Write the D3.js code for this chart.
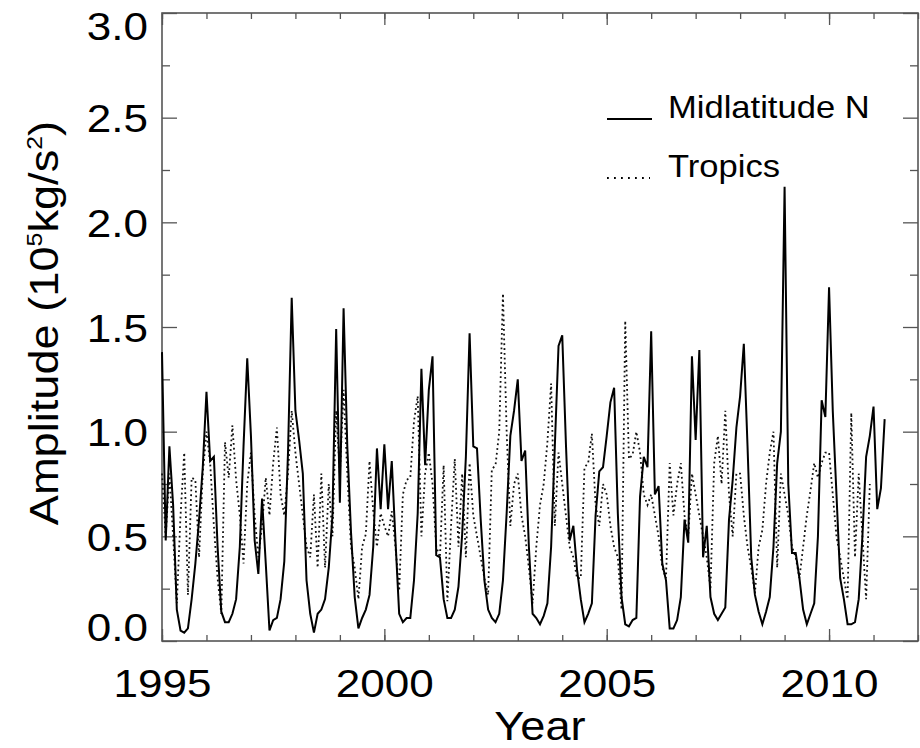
<!DOCTYPE html>
<html>
<head>
<meta charset="utf-8">
<script src="https://cdn.jsdelivr.net/npm/d3@7"></script>
<style>
  body { margin: 0; background: #fff; }
  text { font-family: "Liberation Sans", Arial, sans-serif; fill: #000; }
</style>
</head>
<body>
<script>
var w = 920, h = 748;
var margin = {left: 162, right: 2, top: 13, bottom: 107};

// monthly values, first month = Jan 1995
var startYear = 1995;
var midlatN = [
  1.38, 0.48, 0.93, 0.65, 0.15, 0.05, 0.04, 0.06, 0.20, 0.37, 0.58, 0.83,
  1.19, 0.86, 0.88, 0.45, 0.14, 0.09, 0.09, 0.13, 0.20, 0.45, 0.93, 1.35,
  0.98, 0.48, 0.32, 0.68, 0.37, 0.05, 0.10, 0.11, 0.20, 0.38, 0.90, 1.64,
  1.10, 0.96, 0.80, 0.29, 0.13, 0.04, 0.13, 0.15, 0.20, 0.35, 0.60, 1.49,
  0.66, 1.59, 0.93, 0.52, 0.21, 0.06, 0.11, 0.15, 0.22, 0.45, 0.92, 0.63,
  0.94, 0.63, 0.86, 0.48, 0.13, 0.09, 0.11, 0.11, 0.29, 0.61, 1.30, 0.84,
  1.20, 1.36, 0.41, 0.40, 0.20, 0.11, 0.11, 0.15, 0.26, 0.51, 0.88, 1.47,
  0.93, 0.92, 0.58, 0.29, 0.15, 0.11, 0.09, 0.13, 0.29, 0.61, 0.98, 1.10,
  1.25, 0.86, 0.91, 0.45, 0.13, 0.11, 0.08, 0.12, 0.18, 0.45, 0.93, 1.41,
  1.46, 0.94, 0.48, 0.55, 0.34, 0.20, 0.09, 0.13, 0.18, 0.60, 0.81, 0.83,
  0.98, 1.14, 1.21, 0.61, 0.21, 0.08, 0.07, 0.10, 0.11, 0.69, 0.88, 0.83,
  1.48, 0.70, 0.74, 0.37, 0.29, 0.06, 0.06, 0.10, 0.21, 0.58, 0.47, 1.36,
  0.96, 1.39, 0.40, 0.55, 0.21, 0.13, 0.10, 0.13, 0.16, 0.58, 0.77, 1.02,
  1.17, 1.42, 0.93, 0.40, 0.22, 0.14, 0.08, 0.14, 0.21, 0.45, 0.85, 1.00,
  2.17, 0.75, 0.42, 0.42, 0.30, 0.15, 0.08, 0.13, 0.18, 0.50, 1.15, 1.07,
  1.69, 1.10, 0.70, 0.30, 0.20, 0.08, 0.08, 0.09, 0.20, 0.50, 0.88, 0.98,
  1.12, 0.63, 0.73, 1.06
];
var tropics = [
  0.80, 0.50, 0.80, 0.50, 0.18, 0.60, 0.90, 0.22, 0.78, 0.77, 0.40, 0.80,
  1.00, 0.85, 0.55, 0.30, 0.13, 0.95, 0.78, 1.03, 0.77, 0.60, 0.37, 0.75,
  0.90, 0.60, 0.40, 0.55, 0.78, 0.60, 0.85, 1.02, 0.70, 0.60, 0.80, 1.10,
  0.90, 0.75, 0.60, 0.45, 0.40, 0.70, 0.35, 0.80, 0.35, 0.75, 0.50, 1.10,
  0.80, 1.20, 0.80, 0.45, 0.35, 0.20, 0.45, 0.51, 0.86, 0.62, 0.45, 0.61,
  0.55, 0.50, 0.62, 0.45, 0.24, 0.70, 0.77, 0.78, 1.05, 1.17, 0.50, 0.80,
  0.90, 0.75, 0.45, 0.40, 0.84, 0.19, 0.55, 0.87, 0.45, 0.80, 0.40, 0.85,
  0.60, 0.50, 0.40, 0.30, 0.22, 0.82, 0.84, 1.00, 1.66, 1.00, 0.55, 0.75,
  0.80, 0.60, 0.50, 0.35, 0.18, 0.45, 0.65, 0.75, 0.95, 1.23, 0.55, 0.90,
  0.75, 0.60, 0.45, 0.40, 0.30, 0.30, 0.83, 0.85, 0.99, 0.65, 0.55, 0.75,
  0.70, 0.55, 0.45, 0.40, 0.15, 1.53, 0.87, 0.89, 1.00, 0.90, 0.70, 0.65,
  0.70, 0.60, 0.50, 0.35, 0.30, 0.85, 0.60, 0.75, 0.85, 0.60, 0.50, 0.80,
  0.70, 0.60, 0.50, 0.40, 0.25, 0.85, 0.98, 0.75, 1.10, 0.70, 0.50, 0.80,
  0.80, 0.60, 0.45, 0.35, 0.23, 0.45, 0.53, 0.75, 0.90, 1.00, 0.35, 0.80,
  0.70, 0.60, 0.45, 0.40, 0.30, 0.45, 0.60, 0.72, 0.85, 0.78, 0.85, 0.90,
  0.90, 0.70, 0.50, 0.40, 0.30, 0.20, 1.09, 0.40, 0.80, 0.50, 0.20, 0.75
];
var xTicks = [1995, 2000, 2005, 2010];
var yTicks = [0.0, 0.5, 1.0, 1.5, 2.0, 2.5, 3.0];
var seriesNames = ["Midlatitude N", "Tropics"];

var svg = d3.select("body").append("svg")
    .attr("width", w)
    .attr("height", h);

var x = d3.scaleLinear()
  .domain([1995, 2012])
  .range([margin.left, w - margin.right]);

var y = d3.scaleLinear()
  .domain([0, 3])
  .range([h - margin.bottom, margin.top]);

var axisColor = "#555";
var stretch = 1.13;
var dots = "1.8,3";

function styleAxis(g) {
  g.select(".domain").remove();
  g.selectAll("line").attr("stroke", axisColor).attr("stroke-width", 1.3);
}

// frame
svg.append("rect")
  .attr("x", x(1995)).attr("y", y(3))
  .attr("width", x(2012) - x(1995)).attr("height", y(0) - y(3))
  .attr("fill", "none").attr("stroke", axisColor).attr("stroke-width", 1.6);

// x axes (bottom with labels, top mirrored)
var xMinor = d3.range(1995, 2013, 1);
[[y(0), d3.axisTop], [y(3), d3.axisBottom]].forEach(function(a) {
  svg.append("g")
    .attr("transform", "translate(0," + a[0] + ")")
    .call(a[1](x).tickValues(xMinor).tickSize(6).tickFormat(""))
    .call(styleAxis);
  svg.append("g")
    .attr("transform", "translate(0," + a[0] + ")")
    .call(a[1](x).tickValues(xTicks).tickSize(12).tickFormat(""))
    .call(styleAxis);
});

var xLab = svg.append("g")
  .attr("transform", "translate(0," + y(0) + ")")
  .call(d3.axisBottom(x).tickValues(xTicks).tickSize(0).tickPadding(0).tickFormat(d3.format("d")))
  .call(styleAxis);
xLab.selectAll("text")
  .attr("y", 56).attr("dy", 0)
  .attr("font-size", 39)
  .attr("font-family", "Liberation Sans, Arial, sans-serif")
  .attr("fill", "#000")
  .attr("transform", "scale(" + stretch + ",1)");

// y axes (left with labels, right mirrored)
var yMinor = d3.range(0.25, 3, 0.5);
[[x(1995), d3.axisRight], [x(2012), d3.axisLeft]].forEach(function(a) {
  svg.append("g")
    .attr("transform", "translate(" + a[0] + ",0)")
    .call(a[1](y).tickValues(yMinor).tickSize(8).tickFormat(""))
    .call(styleAxis);
  svg.append("g")
    .attr("transform", "translate(" + a[0] + ",0)")
    .call(a[1](y).tickValues(yTicks).tickSize(15).tickFormat(""))
    .call(styleAxis);
});

var yLab = svg.append("g")
  .attr("transform", "translate(" + x(1995) + ",0)")
  .call(d3.axisLeft(y).tickValues(yTicks).tickSize(0).tickFormat(d3.format(".1f")))
  .call(styleAxis);
yLab.selectAll("text")
  .attr("x", -14 / stretch)
  .attr("dy", function(d) { return d === 0 ? "-0.02em" : (d === 3 ? "0.68em" : "0.36em"); })
  .attr("font-size", 39)
  .attr("font-family", "Liberation Sans, Arial, sans-serif")
  .attr("fill", "#000")
  .attr("transform", "scale(" + stretch + ",1)");

// axis titles
svg.append("text")
  .attr("transform", "translate(" + ((x(1995) + x(2012)) / 2) + ",740) scale(" + stretch + ",1)")
  .attr("text-anchor", "middle")
  .attr("font-size", 40)
  .text("Year");

var yt = svg.append("text")
  .attr("transform", "translate(58," + ((y(0) + y(3)) / 2 - 4) + ") rotate(-90) scale(" + stretch + ",1)")
  .attr("text-anchor", "middle")
  .attr("font-size", 40);
yt.append("tspan").text("Amplitude (10");
yt.append("tspan").attr("font-size", 22).attr("dy", -16).text("5");
yt.append("tspan").attr("dy", 16).text("kg/s");
yt.append("tspan").attr("font-size", 22).attr("dy", -16).text("2");
yt.append("tspan").attr("dy", 16).text(")");

// lines
var line = d3.line()
  .x(function(d, i) { return x(startYear + i / 12); })
  .y(function(d) { return y(d); });

svg.append("path")
  .attr("class", "tropics")
  .attr("d", line(tropics))
  .attr("fill", "none")
  .attr("stroke", "#111")
  .attr("stroke-width", 1.8)
  .attr("stroke-dasharray", dots);

svg.append("path")
  .attr("class", "midlat")
  .attr("d", line(midlatN))
  .attr("fill", "none")
  .attr("stroke", "#000")
  .attr("stroke-width", 2);

// legend
var legend = svg.append("g");
var legendRows = [
  {name: seriesNames[0], y: 119, dash: null},
  {name: seriesNames[1], y: 178, dash: "1.8,5.2"}
];
legendRows.forEach(function(r) {
  legend.append("line")
    .attr("x1", 607).attr("x2", r.dash ? 650 : 652)
    .attr("y1", r.y).attr("y2", r.y)
    .attr("stroke", "#000")
    .attr("stroke-width", r.dash ? 1.8 : 2)
    .attr("stroke-dasharray", r.dash);
  legend.append("text")
    .attr("transform", "translate(668," + (r.y - 1) + ") scale(1.08,1)")
    .attr("font-size", 32)
    .text(r.name);
});
</script>
</body>
</html>
